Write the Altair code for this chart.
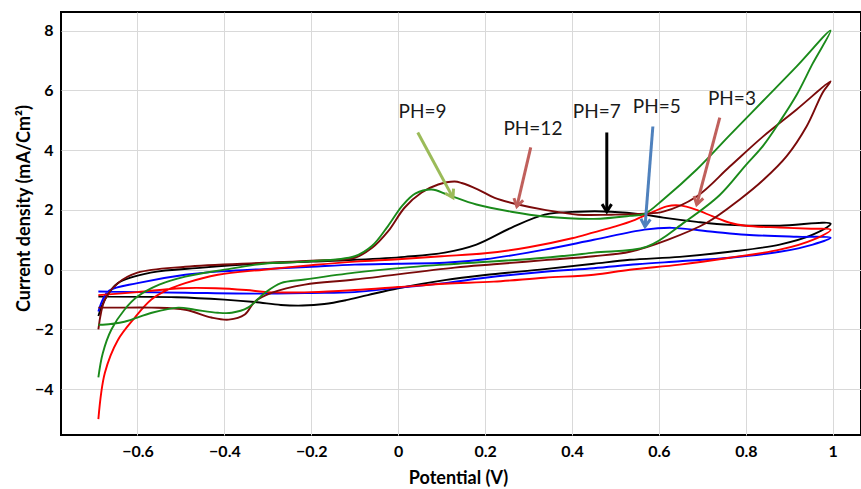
import math
import altair as alt
import pandas as pd

# ---------------- data ----------------
# pH 3 (red)
ph3_v = [-0.69, -0.675, -0.645, -0.606, -0.568, -0.53, -0.49, -0.415, -0.31, -0.2, -0.1, 0.0, 0.1, 0.2, 0.3,
         0.4, 0.45, 0.5, 0.545, 0.572, 0.618, 0.648, 0.687, 0.724, 0.763, 0.8, 0.878, 0.95, 0.995,
         0.954, 0.878, 0.763, 0.648, 0.533, 0.45, 0.337, 0.22, 0.107, 0.0, -0.1, -0.2, -0.3, -0.35, -0.42,
         -0.5, -0.6, -0.69]
ph3_i = [-5.0, -3.45, -2.35, -1.6, -1.0, -0.67, -0.45, -0.17, 0.0, 0.15, 0.27, 0.35, 0.45, 0.55, 0.75,
         1.05, 1.25, 1.45, 1.67, 1.84, 2.12, 2.15, 2.0, 1.78, 1.57, 1.47, 1.41, 1.37, 1.34,
         1.0, 0.67, 0.4, 0.17, 0.0, -0.17, -0.27, -0.4, -0.47, -0.58, -0.68, -0.75, -0.75, -0.68, -0.62,
         -0.62, -0.75, -0.85]

# pH 5 (blue)
ph5_v = [-0.69, -0.68, -0.665, -0.6, -0.49, -0.4, -0.31, -0.2, -0.1, 0.0, 0.107, 0.2, 0.337, 0.45, 0.567,
         0.63, 0.724, 0.8, 0.917, 0.995,
         0.954, 0.878, 0.763, 0.648, 0.55, 0.45, 0.337, 0.2, 0.107, 0.0, -0.1, -0.2, -0.33, -0.49, -0.6, -0.69]
ph5_i = [-1.4, -1.0, -0.7, -0.45, -0.17, -0.05, 0.02, 0.1, 0.17, 0.2, 0.23, 0.35, 0.67, 1.0, 1.34,
         1.4, 1.27, 1.17, 1.1, 1.07,
         0.84, 0.6, 0.4, 0.28, 0.18, 0.05, -0.07, -0.27, -0.45, -0.6, -0.75, -0.78, -0.8, -0.77, -0.75, -0.73]

# pH 7 (black)
ph7_v = [-0.69, -0.675, -0.645, -0.57, -0.45, -0.33, -0.2, -0.1, 0.015, 0.107, 0.18, 0.26, 0.337, 0.414,
         0.49, 0.567, 0.61, 0.687, 0.763, 0.878, 0.995,
         0.954, 0.878, 0.763, 0.648, 0.533, 0.45, 0.337, 0.2, 0.107, 0.0, -0.07, -0.12, -0.17, -0.22,
         -0.27, -0.33, -0.4, -0.51, -0.69]
ph7_i = [-1.55, -1.0, -0.45, -0.1, 0.07, 0.2, 0.27, 0.33, 0.43, 0.57, 0.84, 1.4, 1.84, 1.94,
         1.94, 1.84, 1.74, 1.6, 1.5, 1.47, 1.54,
         1.17, 0.84, 0.6, 0.43, 0.33, 0.2, 0.02, -0.18, -0.35, -0.62, -0.85, -1.02, -1.15, -1.2,
         -1.18, -1.08, -1.0, -0.92, -0.9]

# pH 9 (green)
ph9_v = [-0.69, -0.68, -0.66, -0.63, -0.6, -0.55, -0.49, -0.4, -0.31, -0.215, -0.1, -0.06, -0.024, 0.01,
         0.04, 0.077, 0.115, 0.18, 0.26, 0.337, 0.45, 0.533, 0.567, 0.61, 0.687, 0.763, 0.84, 0.917, 0.995,
         0.954, 0.917, 0.878, 0.84, 0.8, 0.74, 0.66, 0.572, 0.45, 0.337, 0.107, 0.015, -0.1, -0.215, -0.27,
         -0.307, -0.346, -0.383, -0.415, -0.468, -0.506, -0.567, -0.63, -0.68, -0.69]
ph9_i = [-3.6, -2.8, -2.0, -1.34, -0.9, -0.5, -0.23, 0.0, 0.2, 0.27, 0.45, 0.8, 1.45, 2.15,
         2.55, 2.68, 2.5, 2.18, 1.94, 1.78, 1.7, 1.8, 1.87, 2.35, 3.35, 4.5, 5.65, 6.8, 8.0,
         6.9, 5.85, 4.95, 4.15, 3.5, 2.5, 1.6, 0.77, 0.57, 0.4, 0.17, 0.07, -0.1, -0.33, -0.45,
         -0.78, -1.27, -1.44, -1.44, -1.34, -1.27, -1.44, -1.74, -1.84, -1.84]

# pH 12 (dark red)
ph12_v = [-0.69, -0.675, -0.645, -0.6, -0.49, -0.31, -0.2, -0.1, -0.06, -0.024, 0.015, 0.054, 0.092, 0.13,
          0.146, 0.184, 0.222, 0.276, 0.337, 0.414, 0.49, 0.567, 0.61, 0.687, 0.763, 0.84, 0.917, 0.995,
          0.977, 0.94, 0.894, 0.84, 0.786, 0.71, 0.62, 0.533, 0.45, 0.337, 0.22, 0.13, -0.1, -0.215, -0.29,
          -0.33, -0.353, -0.39, -0.43, -0.49, -0.567, -0.645, -0.69]
ph12_i = [-2.0, -1.0, -0.45, -0.1, 0.1, 0.23, 0.3, 0.4, 0.73, 1.27, 2.08, 2.58, 2.85, 2.95,
          2.9, 2.68, 2.4, 2.18, 2.0, 1.84, 1.84, 1.87, 1.94, 2.45, 3.45, 4.46, 5.36, 6.3,
          5.93, 4.8, 3.8, 3.0, 2.35, 1.57, 1.0, 0.6, 0.45, 0.32, 0.18, 0.07, -0.33, -0.5, -0.77,
          -1.07, -1.5, -1.67, -1.6, -1.34, -1.27, -1.27, -1.27]

series_names = ["pH 7", "pH 5", "pH 3", "pH 12", "pH 9"]
series_v = [ph7_v, ph5_v, ph3_v, ph12_v, ph9_v]
series_i = [ph7_i, ph5_i, ph3_i, ph12_i, ph9_i]
series_colors = ["#000000", "#0000FF", "#FF0000", "#7A0A0A", "#1A8A1A"]

# annotations
ann_labels = ["PH=9", "PH=12", "PH=7", "PH=5", "PH=3"]
ann_text_v = [0.056, 0.31, 0.457, 0.595, 0.768]
ann_text_i = [5.26, 4.69, 5.26, 5.43, 5.7]
arrow_v0 = [0.045, 0.305, 0.48, 0.586, 0.74]
arrow_i0 = [4.59, 4.09, 4.59, 4.79, 5.09]
arrow_v1 = [0.126, 0.273, 0.48, 0.568, 0.687]
arrow_i1 = [2.41, 2.11, 1.94, 1.44, 2.18]
arrow_colors = ["#9BBB59", "#C0605C", "#000000", "#4F81BD", "#C0605C"]

x_ticks = [-0.6, -0.4, -0.2, 0, 0.2, 0.4, 0.6, 0.8, 1]
y_ticks = [-4, -2, 0, 2, 4, 6, 8]

# ---------------- chart ----------------
X_DOM = [-0.776, 1.065]
Y_DOM = [-5.53, 8.62]
W, H = 800, 423

xscale = alt.Scale(domain=X_DOM, nice=False, zero=False)
yscale = alt.Scale(domain=Y_DOM, nice=False, zero=False)

x_axis = alt.Axis(values=x_ticks, format="~g", title="Potential (V)", grid=True,
                  titleX=397, titleY=43, titleBaseline="middle", titleAlign="center",
                  titleFontSize=18)
y_axis = alt.Axis(values=y_ticks, format="~g", title="Current density (mA/Cm²)", grid=True,
                  titleX=-37, titleY=196, titleAngle=270, titleBaseline="middle", titleAlign="center",
                  titleFontSize=18)


def X(field):
    return alt.X(field, scale=xscale, axis=x_axis)


def Y(field):
    return alt.Y(field, scale=yscale, axis=y_axis)


layers = []
for name, vs, is_, col in zip(series_names, series_v, series_i, series_colors):
    df = pd.DataFrame({"V": vs, "I": is_, "seq": list(range(len(vs)))})
    line = alt.Chart(df).mark_line(color=col, strokeWidth=1.9, interpolate="catmull-rom", clip=True).encode(
        x=X("V:Q"),
        y=Y("I:Q"),
        order="seq:Q",
    )
    layers.append(line)

# arrows
sx = W / (X_DOM[1] - X_DOM[0])
sy = H / (Y_DOM[1] - Y_DOM[0])
angles = []
for v0, i0, v1, i1 in zip(arrow_v0, arrow_i0, arrow_v1, arrow_i1):
    dx = (v1 - v0) * sx
    dy_screen = -(i1 - i0) * sy
    angles.append(math.degrees(math.atan2(dx, -dy_screen)) % 360)

arr = pd.DataFrame({"v0": arrow_v0, "i0": arrow_i0, "v1": arrow_v1, "i1": arrow_i1,
                    "col": arrow_colors, "ang": angles})
shafts = alt.Chart(arr).mark_rule(strokeWidth=3).encode(
    x=X("v0:Q"), y=Y("i0:Q"),
    x2="v1:Q", y2="i1:Q",
    color=alt.Color("col:N", scale=None),
)
heads = alt.Chart(arr).mark_point(shape="M -0.75 1.2 L 0 0 L 0.75 1.2", filled=False, strokeWidth=3,
                                  size=160, opacity=1, strokeJoin="miter").encode(
    x=X("v1:Q"), y=Y("i1:Q"),
    color=alt.Color("col:N", scale=None),
    angle=alt.Angle("ang:Q", scale=None),
)
txt = pd.DataFrame({"v": ann_text_v, "i": ann_text_i, "label": ann_labels})
texts = alt.Chart(txt).mark_text(font="Lato", fontSize=19, color="#1a1a1a", baseline="middle",
                                 align="center").encode(
    x=X("v:Q"), y=Y("i:Q"), text="label:N",
)

chart = alt.layer(*layers, shafts, heads, texts).properties(
    width=W, height=H,
    autosize=alt.AutoSizeParams(type="none"),
    padding={"left": 61, "top": 12, "right": 0, "bottom": 54},
    background="white",
).configure_view(
    stroke="#000000", strokeWidth=2,
).configure_axis(
    gridColor="#d9d9d9", gridWidth=1, domain=False, ticks=False,
    labelFont="Lato", labelFontWeight="bold", labelFontSize=16, labelColor="#000000",
    titleFont="Lato", titleFontWeight="bold", titleColor="#000000",
    labelPadding=8,
)

chart.save("out.html", embed_options={"renderer": "svg", "actions": False})
